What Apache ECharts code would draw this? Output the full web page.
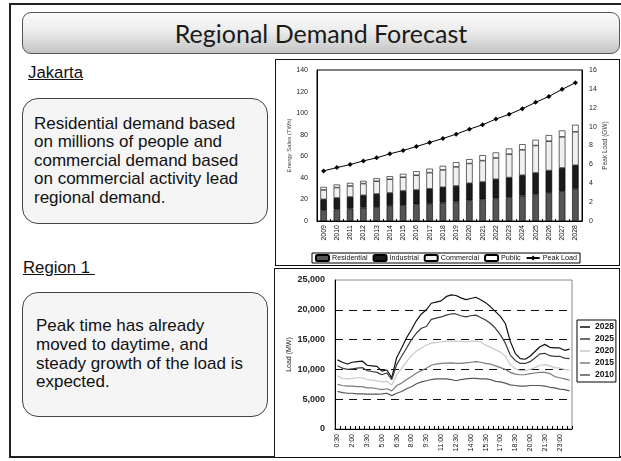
<!DOCTYPE html>
<html><head><meta charset="utf-8">
<script src="https://cdn.jsdelivr.net/npm/echarts@6/dist/echarts.min.js"></script>
<style>
html,body{margin:0;padding:0;background:#fff;}
body{width:621px;height:461px;position:relative;overflow:hidden;font-family:"Liberation Sans",Arial,sans-serif;}
.abs{position:absolute;box-sizing:border-box;}
#slide{left:9px;top:3px;width:640px;height:455px;border:2.5px solid #222;}
#title{left:22px;top:12px;width:598px;height:42px;border:1px solid #555;border-radius:9px;
  background:linear-gradient(to bottom,#fbfbfb 0%,#ececec 45%,#c4c4c4 100%);
  font-family:"Lato",sans-serif;font-size:25px;color:#1a1a1a;text-align:center;line-height:40px;}
.head{font-size:16.8px;text-decoration:underline;color:#111;white-space:pre;}
.box{border:1px solid #444;border-radius:16px;background:#f5f5f5;font-size:17px;line-height:18.6px;color:#111;padding-left:11px;display:flex;align-items:center;}
.frame{border:1px solid #111;background:#fff;}
#chart{left:0;top:0;width:621px;height:461px;}
</style></head>
<body>
<div class="abs" id="slide"></div>
<div class="abs" id="title">Regional Demand Forecast</div>
<div class="abs head" style="left:28px;top:63px;">Jakarta</div>
<div class="abs box" style="left:22px;top:98px;width:246px;height:126px;"><div>Residential demand based<br>on millions of people and<br>commercial demand based<br>on commercial activity lead<br>regional demand.</div></div>
<div class="abs head" style="left:23px;top:258px;">Region 1 </div>
<div class="abs box" style="left:22px;top:292px;width:246px;height:125px;padding-left:13px;"><div>Peak time has already<br>moved to daytime, and<br>steady growth of the load is<br>expected.</div></div>
<div class="abs frame" style="left:275px;top:59px;width:345px;height:207px;"></div>
<div class="abs frame" style="left:274px;top:268px;width:346px;height:190px;"></div>
<div class="abs" id="chart"></div>
<script>
// ---- Jakarta energy sales forecast ----
const years = ['2009','2010','2011','2012','2013','2014','2015','2016','2017','2018','2019','2020','2021','2022','2023','2024','2025','2026','2027','2028'];
const residential = [9.9,10.8,11.5,12.4,12.8,14.0,14.6,15.5,16.0,17.0,18.0,19.2,20.1,21.0,22.0,23.5,24.8,26.0,27.6,29.7];
const industrial  = [10.2,10.6,10.8,11.4,12.3,12.0,13.3,13.3,13.9,14.3,14.5,15.8,16.1,17.7,18.3,18.9,19.8,20.8,21.6,22.0];
const commercial  = [8.7,9.6,10.2,10.9,11.8,12.7,12.7,13.6,14.9,16.1,17.7,18.3,19.8,19.8,21.7,23.6,25.4,27.2,28.8,31.0];
const publicUse   = [2.8,2.8,2.8,2.5,2.7,2.8,3.1,3.7,3.7,3.7,4.3,4.0,5.0,5.0,5.2,5.2,5.3,5.6,5.9,6.5];
const peakLoad    = [5.31,5.66,5.98,6.37,6.69,7.12,7.47,7.89,8.32,8.74,9.2,9.73,10.2,10.8,11.3,11.9,12.57,13.2,13.95,14.65];

// ---- Region 1 daily load curves (MW) ----
const times = ['0:30','1:00','1:30','2:00','2:30','3:00','3:30','4:00','4:30','5:00','5:30','6:00','6:30','7:00','7:30','8:00','8:30','9:00','9:30','10:00','10:30','11:00','11:30','12:00','12:30','13:00','13:30','14:00','14:30','15:00','15:30','16:00','16:30','17:00','17:30','18:00','18:30','19:00','19:30','20:00','20:30','21:00','21:30','22:00','22:30','23:00','23:30','24:00'];
const load2028 = [11600,11200,10900,11200,11300,11400,10700,10600,10500,9700,9900,8600,12000,13600,15300,16700,18200,19300,20000,21100,21300,21500,22200,22500,22400,22000,21700,21900,22100,21700,21200,20500,19700,18900,17700,14700,12700,11800,11700,12200,13000,13800,14200,13700,13600,13600,13200,13400];
const load2025 = [10600,10200,10000,10100,10200,10300,9800,9650,9500,9100,9400,8300,10800,12200,13600,15000,16100,16900,17200,18400,18600,18800,19100,19300,19300,19000,18800,19000,19100,18700,18300,17700,16900,15800,14400,12400,11500,11000,11000,11300,11900,12600,12700,12300,12200,12200,11900,11800];
const load2020 = [8900,8500,8400,8500,8600,8600,8300,8200,8100,7900,8000,7400,9100,10200,11300,12300,13100,13600,14100,14400,14500,14600,14700,14800,14700,14700,14600,14700,14800,14600,14100,13700,13300,12900,12200,10800,10100,9800,9800,10000,10300,10700,10800,10600,10300,10200,10000,9900];
const load2015 = [7500,7300,7200,7200,7100,7100,6900,6900,6750,6600,6750,6400,7300,7700,8300,8800,9400,9800,10200,10700,10900,11000,11050,11100,11000,11000,11100,11200,11300,11200,11000,10900,10600,10300,10000,9500,9200,9100,9100,9300,9400,9500,9500,9300,8800,8600,8400,8200];
const load2010 = [6300,6100,6000,6000,5900,5900,5860,5860,5860,5900,6000,5600,6000,6300,6750,7100,7600,7900,8100,8300,8400,8400,8400,8300,8100,8300,8400,8500,8500,8400,8400,8300,8000,7900,7700,7400,7300,7200,7200,7300,7300,7300,7200,7000,6900,6700,6600,6400];

const FONT = '"Liberation Sans", Arial, sans-serif';
const chart = echarts.init(document.getElementById('chart'), null, {renderer:'canvas'});
const barStyle = (c) => ({color:c, borderColor:'#000', borderWidth:0.6});
const lineS = (name, data, color, w) => ({
  name, type:'line', xAxisIndex:1, yAxisIndex:2, data, symbol:'none',
  lineStyle:{color, width:w}, itemStyle:{color}, animation:false
});
chart.setOption({
  backgroundColor:'transparent',
  animation:false,
  textStyle:{fontFamily:FONT},
  grid:[
    {left:317, top:70, width:265, height:151, show:true, borderColor:'#000', borderWidth:1, backgroundColor:'transparent'},
    {left:335, top:280, width:237, height:149, show:true, borderColor:'#888', borderWidth:1, backgroundColor:'transparent'}
  ],
  legend:[
    {data:['Residential','Industrial','Commercial','Public','Peak Load'], left:312, top:253, orient:'horizontal',
     itemWidth:13, itemHeight:6, itemGap:5, padding:[1,3,1,3], borderColor:'#000', borderWidth:1, backgroundColor:'#fff',
     textStyle:{fontSize:7.2, color:'#111', fontFamily:FONT, padding:[0,0,0,-2]}},
    {data:['2028','2025','2020','2015','2010'], left:577, top:320, orient:'vertical', icon:'rect',
     itemWidth:10, itemHeight:1.5, itemGap:2, padding:[2,2,2,3], borderColor:'#000', borderWidth:1, backgroundColor:'#fff',
     textStyle:{fontSize:8.5, fontWeight:'bold', color:'#111', fontFamily:FONT, lineHeight:10}}
  ],
  xAxis:[
    {type:'category', gridIndex:0, data:years, boundaryGap:true,
     axisLine:{lineStyle:{color:'#000', width:1}}, axisTick:{show:true, inside:true, length:2, lineStyle:{color:'#000'}},
     axisLabel:{rotate:90, fontSize:7, color:'#111', margin:4, interval:0}},
    {type:'category', gridIndex:1, data:times, boundaryGap:true,
     axisLine:{lineStyle:{color:'#000', width:1}}, axisTick:{show:true, inside:true, length:3, interval:0, lineStyle:{color:'#000'}},
     axisLabel:{rotate:90, fontSize:7, color:'#111', margin:5, interval:2}}
  ],
  yAxis:[
    {type:'value', gridIndex:0, min:0, max:140, interval:20, position:'left',
     name:'Energy Sales (TWh)', nameLocation:'middle', nameGap:24, nameTextStyle:{fontSize:6, color:'#444'},
     axisLine:{show:true, lineStyle:{color:'#000'}}, axisTick:{show:false},
     axisLabel:{fontSize:7, color:'#222', margin:9}, splitLine:{show:false}},
    {type:'value', gridIndex:0, min:0, max:16, interval:2, position:'right',
     name:'Peak Load (GW)', nameLocation:'middle', nameGap:20, nameTextStyle:{fontSize:6.5, color:'#444'},
     axisLine:{show:true, lineStyle:{color:'#000'}}, axisTick:{show:false},
     axisLabel:{fontSize:7, color:'#222', margin:7}, splitLine:{show:false}},
    {type:'value', gridIndex:1, min:0, max:25000, interval:5000,
     name:'Load (MW)', nameLocation:'middle', nameGap:42, nameTextStyle:{fontSize:7, color:'#222'},
     axisLine:{show:true, lineStyle:{color:'#000'}}, axisTick:{show:false},
     axisLabel:{fontSize:9, fontWeight:'bold', color:'#222', margin:10, formatter:v=>v.toLocaleString('en-US')},
     splitLine:{show:true, showMinLine:false, showMaxLine:false, lineStyle:{color:'#111', type:[8,6], width:1}}}
  ],
  series:[
    {name:'Residential', type:'bar', stack:'s', xAxisIndex:0, yAxisIndex:0, data:residential, barWidth:6.5, itemStyle:barStyle('#555555')},
    {name:'Industrial', type:'bar', stack:'s', xAxisIndex:0, yAxisIndex:0, data:industrial, barWidth:6.5, itemStyle:barStyle('#1a1a1a')},
    {name:'Commercial', type:'bar', stack:'s', xAxisIndex:0, yAxisIndex:0, data:commercial, barWidth:6.5, itemStyle:barStyle('#f0f0f0')},
    {name:'Public', type:'bar', stack:'s', xAxisIndex:0, yAxisIndex:0, data:publicUse, barWidth:6.5, itemStyle:barStyle('#ffffff')},
    {name:'Peak Load', type:'line', xAxisIndex:0, yAxisIndex:1, data:peakLoad, symbol:'diamond', symbolSize:5,
     lineStyle:{color:'#000', width:1}, itemStyle:{color:'#000'}},
    lineS('2028', load2028, '#111111', 1.2),
    lineS('2025', load2025, '#3c3c3c', 1.2),
    lineS('2020', load2020, '#c8c8c8', 1.2),
    lineS('2015', load2015, '#7c7c7c', 1.2),
    lineS('2010', load2010, '#575757', 1.2)
  ]
});
</script>
</body></html>
